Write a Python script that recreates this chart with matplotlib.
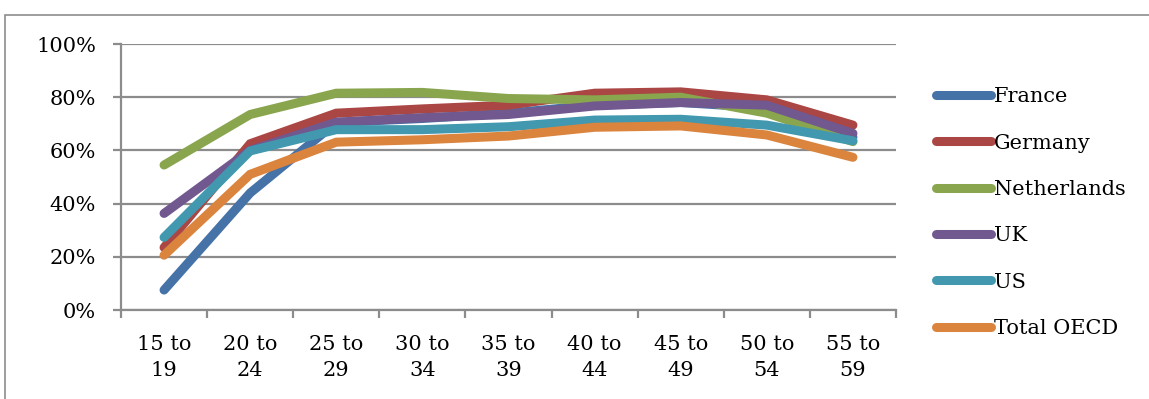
import matplotlib.pyplot as plt
import matplotlib.patches as patches
import numpy as np

# age groups and employment rates (%)
age_groups = ['15 to\n19', '20 to\n24', '25 to\n29', '30 to\n34', '35 to\n39',
              '40 to\n44', '45 to\n49', '50 to\n54', '55 to\n59']
france = [7.5, 44, 70.5, 72, 74, 77, 78, 76, 65]
germany = [23.5, 62.5, 74, 75.6, 77, 81.5, 82, 79, 69.5]
netherlands = [54.5, 73.5, 81.5, 81.8, 79.5, 79, 80, 74, 63.3]
uk = [36.3, 60, 70.6, 72.3, 73.5, 76.7, 78, 77, 66.4]
us = [27.3, 59.8, 67.8, 67.8, 68.9, 71.4, 71.7, 69.5, 63.6]
total_oecd = [20.6, 51, 63.1, 64, 65.4, 68.7, 69.2, 65.8, 57.4]

series = [('France', france, '#4572a7'),
          ('Germany', germany, '#aa4643'),
          ('Netherlands', netherlands, '#89a54e'),
          ('UK', uk, '#71588f'),
          ('US', us, '#4198af'),
          ('Total OECD', total_oecd, '#db843d')]

plt.rcParams['font.family'] = ['DejaVu Serif']

fig = plt.figure(figsize=(11.49, 3.99), dpi=100)
ax = fig.add_axes([121 / 1149, 1 - 310 / 399, 775 / 1149, 266 / 399])

x = np.arange(len(age_groups))
for name, vals, col in series:
    ax.plot(x, vals, color=col, linewidth=6.5, solid_capstyle='round',
            solid_joinstyle='miter', label=name)

ax.set_xlim(-0.5, len(age_groups) - 0.5)
ax.set_ylim(0, 100)
ax.set_yticks(np.arange(0, 101, 20))
ax.set_yticklabels([f'{v}%' for v in range(0, 101, 20)])
ax.set_xticks(x)
ax.set_xticklabels(age_groups, linespacing=1.5)
ax.set_xticks(np.arange(-0.5, len(age_groups)), minor=True)

ax.yaxis.grid(True, color='#8c8c8c', linewidth=1.6)
ax.set_axisbelow(True)
for s in ['top', 'right']:
    ax.spines[s].set_visible(False)
for s in ['left', 'bottom']:
    ax.spines[s].set_color('#8c8c8c')
    ax.spines[s].set_linewidth(1.6)

ax.tick_params(axis='y', length=6, width=1.6, color='#8c8c8c', labelsize=15, pad=12)
ax.tick_params(axis='x', which='major', length=0, labelsize=15, pad=18)
ax.tick_params(axis='x', which='minor', length=6, width=1.6, color='#8c8c8c')

leg = fig.legend(loc='upper left', bbox_to_anchor=(928 / 1149, 1 - 79 / 399),
                 frameon=False, fontsize=15, handlelength=2.6,
                 handletextpad=0.15, labelspacing=1.31, borderaxespad=0)

# outer chart border
fig.patches.append(patches.Rectangle((5 / 1149, -0.01), 1.05, 1 - 15 / 399 + 0.01,
                                     transform=fig.transFigure, fill=False,
                                     edgecolor='#8c8c8c', linewidth=1.2))

fig.savefig('out.png', dpi=100)
